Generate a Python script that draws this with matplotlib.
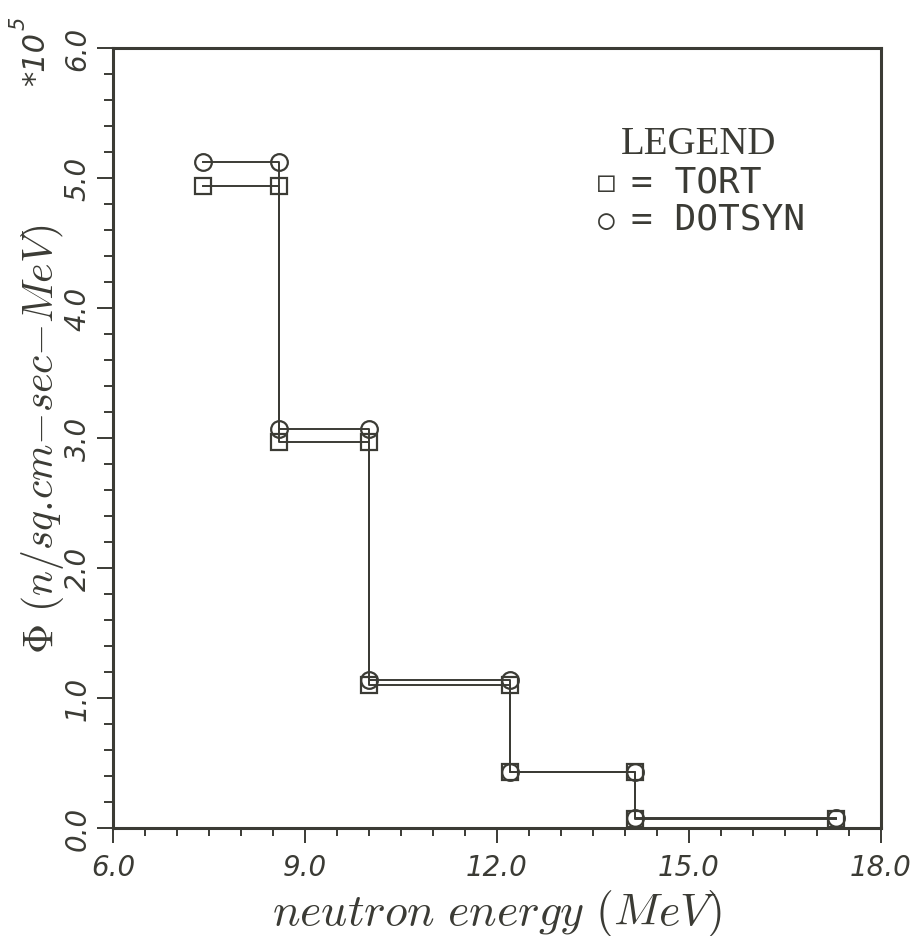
import numpy as np
import matplotlib
matplotlib.use("Agg")
import matplotlib.pyplot as plt
from matplotlib.ticker import MultipleLocator, FixedLocator

plt.rcParams['mathtext.fontset'] = 'cm'

# group boundaries (MeV) and flux per group (*10^5 n/sq.cm-sec-MeV)
energy_edges = [7.4, 8.6, 10.0, 12.2, 14.15, 17.3]
tort = [4.94, 2.97, 1.10, 0.43, 0.07]
dotsyn = [5.12, 3.07, 1.14, 0.43, 0.075]
x_ticks = [6.0, 9.0, 12.0, 15.0, 18.0]
y_ticks = [0.0, 1.0, 2.0, 3.0, 4.0, 5.0, 6.0]

ink = '#3b3b35'


def step_points(edges, vals):
    xs, ys = [], []
    for i, v in enumerate(vals):
        xs += [edges[i], edges[i + 1]]
        ys += [v, v]
    return xs, ys


fig = plt.figure(figsize=(9.24, 9.37), dpi=100)
ax = fig.add_axes([113/924, 1 - 829/937, (881 - 113)/924, (829 - 49)/937])

xt, yt = step_points(energy_edges, tort)
xd, yd = step_points(energy_edges, dotsyn)
ax.plot(xt, yt, color=ink, lw=1.4, marker='s', ms=12, mfc='none',
        mec=ink, mew=1.6, clip_on=False)
ax.plot(xd, yd, color=ink, lw=1.4, marker='o', ms=12, mfc='none',
        mec=ink, mew=1.6, clip_on=False)

ax.set_xlim(6, 18)
ax.set_ylim(0, 6)
ax.xaxis.set_major_locator(FixedLocator(x_ticks))
ax.xaxis.set_minor_locator(MultipleLocator(0.5))
ax.yaxis.set_major_locator(FixedLocator(y_ticks))
ax.yaxis.set_minor_locator(MultipleLocator(0.2))
ax.set_xticklabels(['%.1f' % v for v in x_ticks])
ax.set_yticklabels(['%.1f' % v for v in y_ticks])

for s in ax.spines.values():
    s.set_linewidth(2.2)
    s.set_color(ink)
ax.tick_params(which='both', direction='out', color=ink, width=1.4)
ax.tick_params(axis='x', which='major', length=11, pad=7)
ax.tick_params(axis='x', which='minor', length=5.5)
ax.tick_params(axis='y', which='major', length=11.5, pad=4)
ax.tick_params(axis='y', which='minor', length=6.5)

for lab in ax.get_xticklabels():
    lab.set_fontstyle('italic')
    lab.set_fontsize(20)
    lab.set_color(ink)
for lab in ax.get_yticklabels():
    lab.set_fontstyle('italic')
    lab.set_fontsize(20)
    lab.set_color(ink)
    lab.set_rotation(90)
    lab.set_va('center')

ax.set_xlabel(r'$neutron\ energy\ (MeV)$', fontsize=33, color=ink, labelpad=4)
ax.set_ylabel(r'$\Phi\ (n/sq{.}\!cm{-}sec{-}MeV)$', fontsize=30, color=ink, labelpad=-2)

# scale factor at the top of the y axis
fig.text(36/924, 1 - 86/937, '*10', fontstyle='italic', rotation=90,
         ha='center', va='bottom', fontsize=22, color=ink)
fig.text(19/924, 1 - 30/937, '5', fontstyle='italic', rotation=90,
         ha='center', va='bottom', fontsize=15, color=ink)

# legend block
ax.text(0.763, 0.866, 'LEGEND', transform=ax.transAxes, family='Liberation Serif',
        fontsize=28, color=ink, ha='center', va='baseline')
mono = ['DejaVu Sans Mono', 'DejaVu Sans']
ax.text(0.631, 0.8175, '\u25a1', transform=ax.transAxes, family=mono,
        fontsize=20, color=ink, ha='left', va='baseline')
ax.text(0.674, 0.816, '= TORT', transform=ax.transAxes, family=mono,
        fontsize=26, color=ink, ha='left', va='baseline')
ax.text(0.631, 0.7695, '\u25cb', transform=ax.transAxes, family=mono,
        fontsize=20, color=ink, ha='left', va='baseline')
ax.text(0.674, 0.768, '= DOTSYN', transform=ax.transAxes, family=mono,
        fontsize=26, color=ink, ha='left', va='baseline')

fig.savefig('out.png', dpi=100, facecolor='white')
